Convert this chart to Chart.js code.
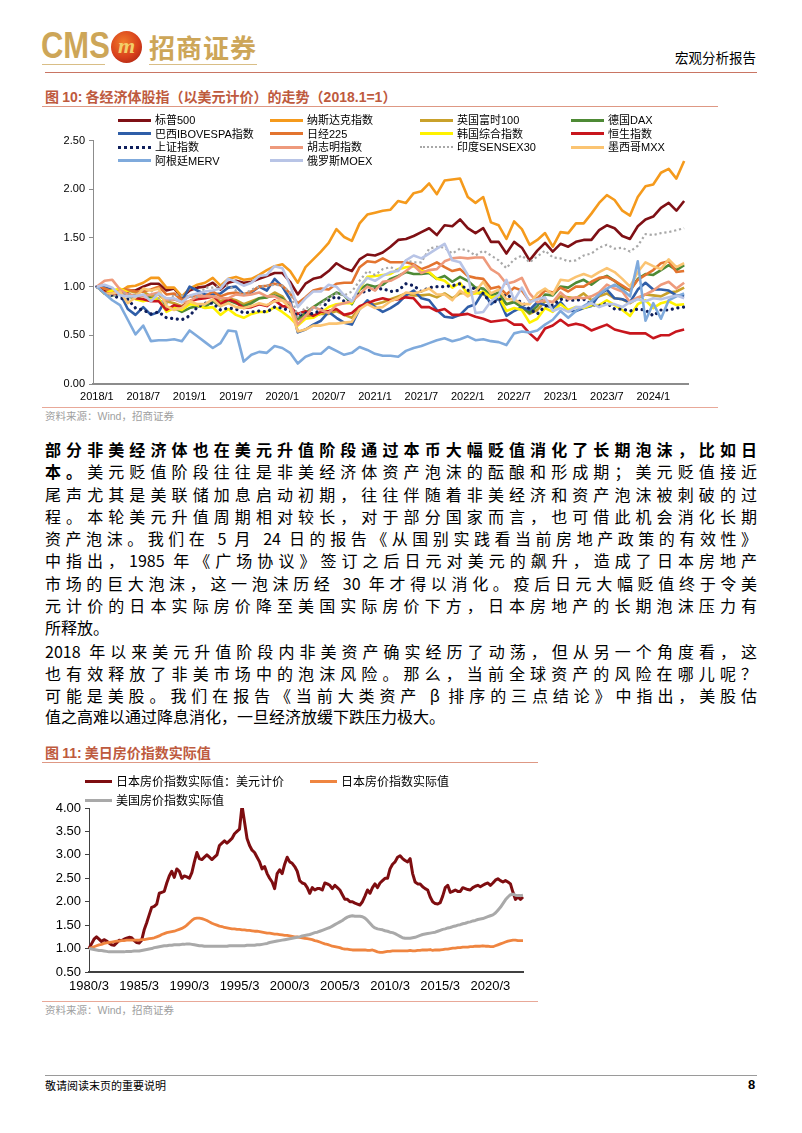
<!DOCTYPE html>
<html><head><meta charset="utf-8">
<script src="https://cdn.jsdelivr.net/npm/chart.js@4.4.1/dist/chart.umd.min.js"></script>
<style>
html,body{margin:0;padding:0;background:#fff;}
body{width:802px;height:1133px;position:relative;overflow:hidden;font-family:"Noto Sans CJK SC","Noto Sans",sans-serif;color:#000;}
.abs{position:absolute;white-space:nowrap;}
.hl{position:absolute;height:0;}
.txt{position:absolute;left:45px;width:712px;font-size:16px;line-height:22px;height:22px;text-align:justify;text-align-last:justify;}
.txt.last{text-align-last:left;}
.lg{position:absolute;font-size:11px;line-height:13px;white-space:nowrap;}
.lgs{position:absolute;height:0;}
.lg2{position:absolute;font-size:12px;line-height:14px;white-space:nowrap;}
.num{font-family:"Liberation Sans",Arial,sans-serif;}
</style></head>
<body>
<!-- header -->
<div class="abs" style="left:41px;top:26px;font-family:'Liberation Sans Narrow','Liberation Sans',Arial;font-weight:bold;font-size:36px;line-height:40px;color:#CDA658;transform:scaleX(0.86);transform-origin:left;">CMS</div>
<div class="hl" style="left:42px;top:64px;width:63px;border-top:1.5px solid #D9BE86;"></div>
<div class="abs" style="left:111px;top:31px;width:31px;height:32px;border-radius:50%;background:radial-gradient(circle at 40% 35%,#F07A2A 0%,#D8401C 55%,#9C1A10 100%);"></div>
<div class="abs" style="left:111px;top:31px;width:31px;height:32px;text-align:center;font-family:'Liberation Serif',serif;font-style:italic;font-weight:bold;font-size:22px;line-height:30px;color:#F3CF6A;">m</div>
<div class="abs" style="left:149px;top:29px;font-size:26px;line-height:36px;font-weight:bold;color:#CDA658;letter-spacing:1px;">招商证券</div>
<div class="hl" style="left:149px;top:64px;width:108px;border-top:1.5px solid #D9BE86;"></div>
<div class="abs" style="left:675px;top:48px;font-size:13.5px;line-height:18px;">宏观分析报告</div>
<div class="hl" style="left:45px;top:72px;width:712px;border-top:1px solid #C97563;"></div>

<!-- figure 10 -->
<div class="abs" style="left:45px;top:87px;font-size:14px;line-height:18px;font-weight:bold;color:#BE5A3E;">图 <span class="num">10:</span> 各经济体股指（以美元计价）的走势（<span class="num">2018.1=1</span>）</div>
<div class="hl" style="left:42px;top:106px;width:676px;border-top:1px solid #DE9884;"></div>
<canvas id="c1" width="676" height="275" style="position:absolute;left:42px;top:130px;"></canvas>
<div id="legend1"></div>
<div class="hl" style="left:42px;top:407px;width:676px;border-top:1px solid #E8A898;"></div>
<div class="abs" style="left:45px;top:409px;font-size:10.5px;line-height:14px;color:#A0A0A0;">资料来源：<span class="num">Wind</span>，招商证券</div>

<!-- text -->
<div class="txt" style="top:438px;font-weight:bold;">部分非美经济体也在美元升值阶段通过本币大幅贬值消化了长期泡沫，比如日</div>
<div class="txt" style="top:460px;"><b>本。</b>美元贬值阶段往往是非美经济体资产泡沫的酝酿和形成期；美元贬值接近</div>
<div class="txt" style="top:483px;">尾声尤其是美联储加息启动初期，往往伴随着非美经济和资产泡沫被刺破的过</div>
<div class="txt" style="top:505px;">程。本轮美元升值周期相对较长，对于部分国家而言，也可借此机会消化长期</div>
<div class="txt" style="top:527px;">资产泡沫。我们在 5 月 24 日的报告《从国别实践看当前房地产政策的有效性》</div>
<div class="txt" style="top:549px;">中指出，1985 年《广场协议》签订之后日元对美元的飙升，造成了日本房地产</div>
<div class="txt" style="top:572px;">市场的巨大泡沫，这一泡沫历经 30 年才得以消化。疫后日元大幅贬值终于令美</div>
<div class="txt" style="top:594px;">元计价的日本实际房价降至美国实际房价下方，日本房地产的长期泡沫压力有</div>
<div class="txt last" style="top:616px;">所释放。</div>

<div class="txt" style="top:640px;">2018 年以来美元升值阶段内非美资产确实经历了动荡，但从另一个角度看，这</div>
<div class="txt" style="top:662px;">也有效释放了非美市场中的泡沫风险。那么，当前全球资产的风险在哪儿呢？</div>
<div class="txt" style="top:684px;">可能是美股。我们在报告《当前大类资产 β 排序的三点结论》中指出，美股估</div>
<div class="txt last" style="top:705px;">值之高难以通过降息消化，一旦经济放缓下跌压力极大。</div>

<!-- figure 11 -->
<div class="abs" style="left:45px;top:743px;font-size:14px;line-height:18px;font-weight:bold;color:#BE5A3E;">图 <span class="num">11:</span> 美日房价指数实际值</div>
<div class="hl" style="left:42px;top:762px;width:496px;border-top:1px solid #DE9884;"></div>
<canvas id="c2" width="496" height="228" style="position:absolute;left:42px;top:770px;"></canvas>
<div id="legend2"></div>
<div class="hl" style="left:42px;top:1001px;width:496px;border-top:1px solid #E8A898;"></div>
<div class="abs" style="left:45px;top:1003px;font-size:10.5px;line-height:14px;color:#A0A0A0;">资料来源：<span class="num">Wind</span>，招商证券</div>

<!-- footer -->
<div class="hl" style="left:45px;top:1075px;width:712px;border-top:1px solid #9A9A9A;"></div>
<div class="abs" style="left:45px;top:1078px;font-size:11px;line-height:15px;">敬请阅读末页的重要说明</div>
<div class="abs num" style="left:748px;top:1077px;font-size:13px;line-height:16px;font-weight:bold;">8</div>

<script>
// ---------------- Chart 1 data (monthly, 2018/1 = 1) ----------------
const months = [
 '2018/1','2018/2','2018/3','2018/4','2018/5','2018/6','2018/7','2018/8','2018/9','2018/10','2018/11','2018/12',
 '2019/1','2019/2','2019/3','2019/4','2019/5','2019/6','2019/7','2019/8','2019/9','2019/10','2019/11','2019/12',
 '2020/1','2020/2','2020/3','2020/4','2020/5','2020/6','2020/7','2020/8','2020/9','2020/10','2020/11','2020/12',
 '2021/1','2021/2','2021/3','2021/4','2021/5','2021/6','2021/7','2021/8','2021/9','2021/10','2021/11','2021/12',
 '2022/1','2022/2','2022/3','2022/4','2022/5','2022/6','2022/7','2022/8','2022/9','2022/10','2022/11','2022/12',
 '2023/1','2023/2','2023/3','2023/4','2023/5','2023/6','2023/7','2023/8','2023/9','2023/10','2023/11','2023/12',
 '2024/1','2024/2','2024/3','2024/4','2024/5'];
const xTicks1 = ['2018/1','2018/7','2019/1','2019/7','2020/1','2020/7','2021/1','2021/7','2022/1','2022/7','2023/1','2023/7','2024/1'];
const yTicks1 = [0, 0.5, 1.0, 1.5, 2.0, 2.5];

const sp500 = [1.00,0.96,0.94,0.94,0.96,0.96,1.00,1.03,1.03,0.96,0.98,0.89,
 0.96,0.99,1.00,1.04,0.97,1.04,1.06,1.04,1.05,1.08,1.11,1.14,
 1.14,1.05,0.92,1.03,1.08,1.10,1.16,1.24,1.19,1.16,1.28,1.33,
 1.32,1.35,1.41,1.48,1.49,1.52,1.56,1.60,1.53,1.63,1.62,1.69,
 1.60,1.55,1.60,1.46,1.46,1.34,1.46,1.40,1.27,1.37,1.45,1.36,
 1.44,1.41,1.46,1.48,1.48,1.58,1.63,1.60,1.52,1.49,1.62,1.69,
 1.72,1.81,1.86,1.78,1.88];
const nasdaq = [1.00,0.98,0.95,0.95,1.00,1.01,1.04,1.09,1.09,0.99,0.99,0.90,
 0.98,1.02,1.04,1.09,1.01,1.08,1.10,1.07,1.08,1.12,1.17,1.21,
 1.23,1.16,1.04,1.20,1.28,1.36,1.45,1.59,1.51,1.47,1.65,1.74,
 1.76,1.78,1.79,1.88,1.86,1.96,1.98,2.06,1.95,2.09,2.10,2.11,
 1.92,1.86,1.92,1.66,1.63,1.49,1.67,1.59,1.43,1.48,1.55,1.41,
 1.56,1.55,1.65,1.65,1.75,1.86,1.94,1.89,1.78,1.73,1.92,2.03,
 2.05,2.17,2.21,2.11,2.29];
const ftse = [1.00,0.93,0.93,0.97,0.96,0.94,0.95,0.90,0.92,0.85,0.83,0.80,
 0.85,0.88,0.89,0.90,0.85,0.88,0.86,0.82,0.85,0.88,0.89,0.94,
 0.90,0.79,0.66,0.70,0.70,0.72,0.72,0.75,0.71,0.68,0.78,0.83,
 0.82,0.84,0.87,0.90,0.93,0.91,0.91,0.92,0.89,0.93,0.88,0.93,
 0.94,0.94,0.92,0.89,0.90,0.82,0.85,0.79,0.72,0.76,0.85,0.84,
 0.90,0.89,0.88,0.93,0.86,0.90,0.93,0.88,0.87,0.83,0.88,0.92,
 0.91,0.90,0.94,0.95,0.99];
const dax = [1.00,0.93,0.91,0.93,0.90,0.88,0.91,0.88,0.87,0.79,0.78,0.74,
 0.78,0.80,0.79,0.85,0.80,0.86,0.83,0.80,0.83,0.88,0.89,0.91,
 0.88,0.80,0.67,0.73,0.79,0.84,0.89,0.94,0.91,0.82,0.97,1.02,
 1.00,1.02,1.08,1.11,1.15,1.13,1.13,1.14,1.08,1.11,1.05,1.10,
 1.06,0.99,0.98,0.91,0.94,0.82,0.84,0.79,0.73,0.80,0.92,0.91,
 1.00,0.99,1.04,1.07,1.02,1.08,1.11,1.06,0.99,0.96,1.08,1.13,
 1.12,1.17,1.22,1.17,1.22];
const ibovespa = [1.00,0.99,0.97,0.93,0.77,0.71,0.79,0.71,0.74,0.88,0.87,0.85,
 1.00,0.96,0.92,0.92,0.93,0.99,1.00,0.92,0.94,1.00,0.96,1.08,
 1.00,0.87,0.53,0.56,0.61,0.65,0.74,0.68,0.63,0.61,0.77,0.86,
 0.79,0.74,0.78,0.83,0.91,0.96,0.88,0.86,0.76,0.69,0.68,0.71,
 0.79,0.82,0.95,0.82,0.88,0.70,0.75,0.79,0.76,0.84,0.81,0.78,
 0.84,0.75,0.75,0.78,0.80,0.92,0.97,0.88,0.87,0.84,0.97,1.04,
 0.97,0.97,0.96,0.91,0.90];
const nikkei = [1.00,0.98,0.95,0.97,0.97,0.95,0.95,0.97,1.00,0.92,0.93,0.86,
 0.90,0.91,0.90,0.95,0.90,0.93,0.94,0.92,0.95,1.00,1.01,1.03,
 1.01,0.93,0.83,0.89,0.96,0.98,0.97,1.03,1.04,1.04,1.20,1.26,
 1.25,1.29,1.25,1.25,1.25,1.23,1.18,1.21,1.25,1.20,1.16,1.18,
 1.11,1.09,1.08,0.98,1.00,0.92,0.99,0.96,0.85,0.88,0.96,0.94,
 0.99,0.95,1.00,1.00,1.05,1.09,1.10,1.06,1.01,0.96,1.07,1.12,
 1.17,1.24,1.26,1.15,1.16];
const kospi = [1.00,0.93,0.96,0.98,0.94,0.87,0.85,0.87,0.88,0.74,0.78,0.76,
 0.82,0.81,0.78,0.79,0.71,0.77,0.71,0.68,0.72,0.74,0.74,0.79,
 0.74,0.68,0.60,0.67,0.68,0.73,0.79,0.82,0.83,0.83,0.98,1.10,
 1.11,1.12,1.13,1.18,1.20,1.21,1.16,1.15,1.08,1.06,0.99,1.04,
 0.92,0.93,0.95,0.89,0.90,0.75,0.78,0.76,0.63,0.67,0.78,0.74,
 0.82,0.76,0.79,0.78,0.81,0.81,0.86,0.81,0.76,0.70,0.82,0.86,
 0.78,0.83,0.85,0.81,0.82];
const hangseng = [1.00,0.94,0.92,0.94,0.93,0.88,0.87,0.85,0.85,0.76,0.81,0.79,
 0.85,0.87,0.88,0.90,0.82,0.87,0.84,0.78,0.79,0.82,0.80,0.86,
 0.80,0.79,0.72,0.75,0.70,0.74,0.75,0.77,0.71,0.73,0.80,0.83,
 0.86,0.88,0.86,0.87,0.89,0.88,0.79,0.79,0.75,0.77,0.71,0.71,
 0.72,0.69,0.67,0.64,0.65,0.66,0.61,0.61,0.52,0.45,0.57,0.60,
 0.66,0.60,0.62,0.60,0.55,0.58,0.61,0.56,0.54,0.52,0.52,0.52,
 0.47,0.50,0.50,0.54,0.56];
const shanghai = [1.00,0.93,0.91,0.88,0.87,0.78,0.76,0.72,0.74,0.68,0.67,0.66,
 0.70,0.79,0.83,0.83,0.76,0.78,0.77,0.73,0.74,0.75,0.74,0.79,
 0.78,0.75,0.70,0.73,0.72,0.76,0.86,0.90,0.85,0.87,0.93,0.96,
 0.97,0.98,0.95,0.96,1.03,1.01,0.95,0.99,1.00,1.00,1.01,1.03,
 0.96,0.99,0.93,0.83,0.86,0.92,0.87,0.84,0.77,0.72,0.80,0.81,
 0.87,0.86,0.86,0.87,0.82,0.80,0.83,0.77,0.77,0.75,0.77,0.76,
 0.70,0.76,0.76,0.78,0.79];
const vnindex = [1.00,1.06,1.07,0.97,0.92,0.91,0.90,0.92,0.94,0.86,0.87,0.84,
 0.85,0.90,0.90,0.90,0.88,0.88,0.92,0.91,0.92,0.94,0.90,0.90,
 0.86,0.83,0.61,0.70,0.79,0.76,0.73,0.81,0.83,0.85,0.92,1.00,
 0.96,1.05,1.06,1.10,1.16,1.22,1.14,1.17,1.18,1.26,1.29,1.30,
 1.29,1.30,1.30,1.18,1.13,1.03,1.05,1.09,0.93,0.84,0.86,0.84,
 0.94,0.87,0.89,0.88,0.90,0.94,1.02,0.98,0.95,0.84,0.89,0.92,
 0.96,1.02,1.05,0.98,1.04];
const sensex = [1.00,0.93,0.90,0.93,0.93,0.91,0.97,0.96,0.88,0.82,0.92,0.91,
 0.90,0.89,0.99,0.99,1.01,1.01,0.96,0.92,0.97,1.00,1.01,1.02,
 1.01,0.94,0.69,0.79,0.76,0.82,0.89,0.93,0.91,0.95,1.06,1.16,
 1.12,1.18,1.20,1.16,1.27,1.25,1.25,1.39,1.41,1.40,1.34,1.39,
 1.37,1.32,1.37,1.32,1.27,1.19,1.28,1.32,1.25,1.31,1.37,1.30,
 1.29,1.26,1.27,1.32,1.34,1.40,1.43,1.39,1.40,1.36,1.42,1.54,
 1.53,1.55,1.56,1.58,1.60];
const mxx = [1.00,0.93,0.93,0.95,0.83,0.89,0.98,0.96,0.98,0.80,0.76,0.78,
 0.85,0.82,0.82,0.87,0.80,0.83,0.79,0.78,0.80,0.83,0.81,0.85,
 0.86,0.78,0.54,0.56,0.60,0.60,0.62,0.62,0.63,0.64,0.77,0.82,
 0.78,0.79,0.85,0.88,0.94,0.93,0.95,0.98,0.92,0.92,0.86,0.96,
 0.90,0.95,1.05,0.93,0.97,0.87,0.87,0.82,0.82,0.93,0.98,0.92,
 1.07,1.06,1.10,1.13,1.10,1.15,1.19,1.15,1.08,1.00,1.15,1.25,
 1.21,1.18,1.28,1.20,1.24];
const merval = [1.00,0.93,0.86,0.81,0.66,0.51,0.60,0.44,0.45,0.45,0.46,0.44,
 0.55,0.49,0.43,0.37,0.42,0.55,0.54,0.23,0.30,0.33,0.32,0.39,
 0.37,0.32,0.21,0.28,0.31,0.31,0.38,0.34,0.30,0.32,0.38,0.35,
 0.31,0.29,0.29,0.28,0.34,0.37,0.39,0.42,0.45,0.47,0.44,0.46,
 0.49,0.45,0.46,0.44,0.43,0.40,0.52,0.54,0.53,0.55,0.61,0.66,
 0.75,0.68,0.75,0.80,0.85,0.92,0.98,1.02,0.97,0.90,1.26,0.65,
 0.83,0.67,0.86,0.90,0.93];
const moex = [1.00,1.02,0.99,0.91,0.90,0.90,0.92,0.85,0.93,0.88,0.88,0.84,
 0.91,0.93,0.95,0.96,0.98,1.08,1.05,1.01,1.04,1.11,1.12,1.21,
 1.19,1.02,0.79,0.88,0.95,0.95,1.02,1.00,0.91,0.85,1.00,1.09,
 1.06,1.11,1.15,1.16,1.27,1.32,1.29,1.34,1.39,1.44,1.27,1.25,
 1.12,0.73,0.74,0.85,0.91,1.07,0.86,0.99,0.84,0.87,0.89,0.75,
 0.78,0.74,0.79,0.79,0.83,0.79,0.82,0.82,0.79,0.84,0.87,0.85,
 0.88,0.87,0.89,0.91,0.88];

const names1 = ['标普500','纳斯达克指数','英国富时100','德国DAX','巴西IBOVESPA指数','日经225','韩国综合指数','恒生指数','上证指数','胡志明指数','印度SENSEX30','墨西哥MXX','阿根廷MERV','俄罗斯MOEX'];
const series1 = [sp500,nasdaq,ftse,dax,ibovespa,nikkei,kospi,hangseng,shanghai,vnindex,sensex,mxx,merval,moex];
const colors1 = ['#7F1015','#F59A1C','#C9A12B','#4E8A35','#2F5EA8','#E3742F','#FFF200','#C8161D','#0F1F5C','#EE9A7C','#A8A8A8','#FBC472','#7FAADC','#B8C4E6'];
const dash1 = [null,null,null,null,null,null,null,null,'dots',null,'grey',null,null,null];

// ---------------- Chart 2 data (quarterly, 1980/3 = 1) ----------------
const xTicks2 = ['1980/3','1985/3','1990/3','1995/3','2000/3','2005/3','2010/3','2015/3','2020/3'];
const yTicks2 = [0.5,1.0,1.5,2.0,2.5,3.0,3.5,4.0];
const japanUSD = [
 1.00,1.10,1.20,1.25, 1.20,1.15,1.19,1.16, 1.12,1.08,1.07,1.12, 1.18,1.17,1.20,1.22, 1.24,1.23,1.17,1.13,
 1.12,1.18,1.40,1.55, 1.72,1.88,1.90,1.95, 2.18,2.20,2.22,2.40, 2.55,2.65,2.52,2.70, 2.65,2.50,2.55,2.53,
 2.50,2.62,2.85,3.05, 2.92,2.90,2.95,3.00, 2.95,2.90,2.95,3.00, 3.20,3.25,3.30,3.25, 3.30,3.35,3.45,3.50,
 3.55,4.05,3.70,3.35, 3.20,3.10,3.05,2.95, 2.85,2.70,2.75,2.60, 2.50,2.42,2.28,2.60, 2.68,2.60,2.80,2.95,
 2.85,2.82,2.75,2.65, 2.45,2.40,2.38,2.30, 2.18,2.30,2.25,2.28, 2.28,2.25,2.40,2.38, 2.35,2.28,2.35,2.30,
 2.25,2.15,2.05,2.05, 2.00,2.00,1.97,1.95, 1.93,2.00,2.12,2.25, 2.18,2.30,2.38,2.30, 2.40,2.45,2.50,2.50,
 2.70,2.80,2.85,2.95, 2.98,2.92,2.88,2.85, 2.92,2.60,2.42,2.38, 2.38,2.32,2.28,2.25, 2.10,2.00,1.96,1.95,
 1.98,2.12,2.30,2.35, 2.20,2.22,2.25,2.22, 2.22,2.30,2.28,2.26, 2.25,2.30,2.33,2.35, 2.32,2.35,2.38,2.40,
 2.35,2.40,2.46,2.49, 2.45,2.42,2.45,2.42, 2.38,2.20,2.05,2.10, 2.05,2.10];
const japanReal = [
 1.00,1.02,1.04,1.06, 1.08,1.09,1.11,1.12, 1.13,1.14,1.15,1.16, 1.16,1.17,1.17,1.18, 1.18,1.18,1.18,1.18,
 1.18,1.19,1.19,1.20, 1.21,1.22,1.23,1.25, 1.27,1.30,1.32,1.34, 1.35,1.36,1.37,1.39, 1.41,1.43,1.46,1.50,
 1.55,1.60,1.64,1.65, 1.65,1.64,1.62,1.60, 1.57,1.54,1.52,1.50, 1.48,1.47,1.45,1.44, 1.43,1.42,1.42,1.41,
 1.41,1.40,1.40,1.39, 1.39,1.38,1.37,1.37, 1.36,1.35,1.34,1.33, 1.33,1.32,1.31,1.31, 1.30,1.29,1.28,1.28,
 1.27,1.26,1.25,1.25, 1.24,1.23,1.22,1.21, 1.20,1.19,1.17,1.16, 1.14,1.12,1.10,1.09, 1.07,1.05,1.04,1.03,
 1.02,1.00,0.99,0.99, 0.98,0.97,0.97,0.97, 0.97,0.97,0.97,0.96, 0.96,0.97,0.95,0.93, 0.92,0.92,0.93,0.94,
 0.94,0.95,0.95,0.95, 0.95,0.95,0.95,0.95, 0.96,0.95,0.95,0.96, 0.96,0.97,0.97,0.97, 0.98,0.96,0.97,0.97,
 0.97,0.98,0.99,0.99, 1.00,1.01,1.01,1.02, 1.02,1.03,1.03,1.03, 1.04,1.04,1.05,1.05, 1.05,1.06,1.05,1.05,
 1.04,1.04,1.06,1.08, 1.10,1.12,1.14,1.16, 1.17,1.18,1.18,1.17, 1.17,1.17];
const usReal = [
 1.00,0.99,0.98,0.97, 0.96,0.96,0.95,0.94, 0.93,0.93,0.93,0.93, 0.93,0.93,0.93,0.94, 0.94,0.94,0.95,0.95,
 0.95,0.96,0.97,0.98, 0.99,1.00,1.02,1.03, 1.04,1.05,1.06,1.06, 1.07,1.07,1.08,1.08, 1.08,1.09,1.09,1.10,
 1.10,1.09,1.08,1.07, 1.06,1.06,1.05,1.05, 1.05,1.05,1.05,1.05, 1.05,1.05,1.05,1.05, 1.06,1.06,1.06,1.06,
 1.06,1.06,1.06,1.07, 1.07,1.07,1.07,1.08, 1.08,1.09,1.10,1.11, 1.13,1.14,1.15,1.16, 1.17,1.18,1.19,1.20,
 1.21,1.22,1.23,1.24, 1.25,1.27,1.28,1.29, 1.30,1.32,1.34,1.35, 1.37,1.39,1.41,1.43, 1.45,1.48,1.51,1.54,
 1.57,1.60,1.64,1.67, 1.69,1.70,1.69,1.69, 1.69,1.68,1.65,1.60, 1.54,1.48,1.44,1.42, 1.41,1.40,1.38,1.37,
 1.35,1.34,1.32,1.29, 1.26,1.23,1.22,1.22, 1.22,1.23,1.24,1.26, 1.28,1.30,1.31,1.32, 1.33,1.34,1.35,1.37,
 1.39,1.41,1.42,1.44, 1.45,1.47,1.48,1.50, 1.51,1.53,1.54,1.56, 1.57,1.59,1.60,1.62, 1.63,1.64,1.66,1.68,
 1.70,1.72,1.76,1.82, 1.88,1.96,2.04,2.10, 2.15,2.16,2.14,2.13, 2.13,2.14];
const quarters = [];
for (let y = 1980; quarters.length < japanUSD.length; y++) {
  for (const m of [3,6,9,12]) { if (quarters.length < japanUSD.length) quarters.push(y + '/' + m); }
}
const names2 = ['日本房价指数实际值：美元计价','日本房价指数实际值','美国房价指数实际值'];
const series2 = [japanUSD, japanReal, usReal];
const colors2 = ['#7E0D10','#EF8540','#A9A9A9'];

// ---------------- Chart 1 ----------------
const numFont = {family:'"Liberation Sans", Arial, sans-serif', size:11};
const ds1 = series1.map((d,i)=>{
  const o = {label:names1[i], data:d, borderColor:colors1[i], backgroundColor:colors1[i],
    borderWidth:2.6, pointRadius:0, tension:0, fill:false, order:series1.length-i,
    borderJoinStyle:'round'};
  if (dash1[i]==='dots'){ o.borderDash=[0.1,5.6]; o.borderCapStyle='round'; o.borderWidth=3.2; }
  if (dash1[i]==='grey'){ o.borderDash=[2.2,2.8]; o.borderWidth=2.2; }
  return o;
});
new Chart(document.getElementById('c1'), {
  type:'line',
  data:{labels:months, datasets:ds1},
  options:{
    responsive:false, animation:false, maintainAspectRatio:false,
    layout:{padding:{top:10,right:30,left:0,bottom:0}},
    plugins:{legend:{display:false}, tooltip:{enabled:false}},
    scales:{
      x:{offset:true, grid:{display:false, drawTicks:false, tickLength:0}, border:{color:'#8C8C8C', width:2},
         ticks:{autoSkip:false, maxRotation:0, minRotation:0, padding:6, color:'#000', font:numFont,
           callback:function(v,i){ return xTicks1.includes(months[i]) ? months[i] : ''; }},
         afterFit:function(s){ s.height = 21; }},
      y:{min:0, max:2.5, afterBuildTicks:function(s){ s.ticks = yTicks1.map(v=>({value:v})); },
         grid:{drawOnChartArea:false, drawTicks:true, tickLength:4, color:'#8C8C8C'},
         border:{color:'#8C8C8C', width:1},
         ticks:{padding:4, color:'#000', font:numFont, callback:v=>Number(v).toFixed(2)},
         afterFit:function(s){ s.width = 51; }}
    }
  }
});

// legend 1 (grid layout like the source)
(function(){
  const L = document.getElementById('legend1');
  const colX = [118,270,420,571], rowY = [120,133.5,147,160.5];
  names1.forEach((n,i)=>{
    const c = i%4, r = Math.floor(i/4);
    const s = document.createElement('div'); s.className='lgs';
    s.style.left = colX[c]+'px'; s.style.width='33px';
    if (dash1[i]==='dots'){ s.style.top=(rowY[r]-1.5)+'px'; s.style.borderTop='3px dotted '+colors1[i]; }
    else if (dash1[i]==='grey'){ s.style.top=(rowY[r]-1)+'px'; s.style.borderTop='2px dotted '+colors1[i]; }
    else { s.style.top=(rowY[r]-1.5)+'px'; s.style.borderTop='3px solid '+colors1[i]; }
    L.appendChild(s);
    const t = document.createElement('div'); t.className='lg';
    t.style.left=(colX[c]+37)+'px'; t.style.top=(rowY[r]-7)+'px';
    t.innerHTML = n.replace(/([A-Za-z0-9]+)/g,'<span class="num">$1</span>');
    L.appendChild(t);
  });
})();

// ---------------- Chart 2 ----------------
const numFont2 = {family:'"Liberation Sans", Arial, sans-serif', size:13};
const widths2 = [3,2.8,3];
const ds2 = series2.map((d,i)=>({label:names2[i], data:d, borderColor:colors2[i], backgroundColor:colors2[i],
  borderWidth:widths2[i], pointRadius:0, tension:0, fill:false, order:series2.length-i, borderJoinStyle:'round'}));
new Chart(document.getElementById('c2'), {
  type:'line',
  data:{labels:quarters, datasets:ds2},
  options:{
    responsive:false, animation:false, maintainAspectRatio:false,
    layout:{padding:{top:38,right:15,left:0,bottom:0}},
    plugins:{legend:{display:false}, tooltip:{enabled:false}},
    scales:{
      x:{offset:false, grid:{display:false, drawTicks:false, tickLength:0}, border:{color:'#404040', width:2},
         ticks:{autoSkip:false, maxRotation:0, minRotation:0, padding:7, color:'#000', font:numFont2,
           callback:function(v,i){ return xTicks2.includes(quarters[i]) ? quarters[i] : ''; }},
         afterFit:function(s){ s.height = 26; }},
      y:{min:0.5, max:4, afterBuildTicks:function(s){ s.ticks = yTicks2.map(v=>({value:v})); },
         grid:{drawOnChartArea:false, drawTicks:true, tickLength:4, color:'#404040'},
         border:{color:'#404040', width:1},
         ticks:{padding:4, color:'#000', font:numFont2, callback:v=>Number(v).toFixed(2)},
         afterFit:function(s){ s.width = 47; }}
    }
  }
});
(function(){
  const L = document.getElementById('legend2');
  const pos = [[85,781],[310,781],[85,800]];
  names2.forEach((n,i)=>{
    const s = document.createElement('div'); s.className='lgs';
    s.style.left=pos[i][0]+'px'; s.style.top=(pos[i][1]-1.5)+'px'; s.style.width='27px';
    s.style.borderTop='3px solid '+colors2[i];
    L.appendChild(s);
    const t = document.createElement('div'); t.className='lg2';
    t.style.left=(pos[i][0]+31)+'px'; t.style.top=(pos[i][1]-7.5)+'px';
    t.textContent = n;
    L.appendChild(t);
  });
})();
</script>
</body></html>
